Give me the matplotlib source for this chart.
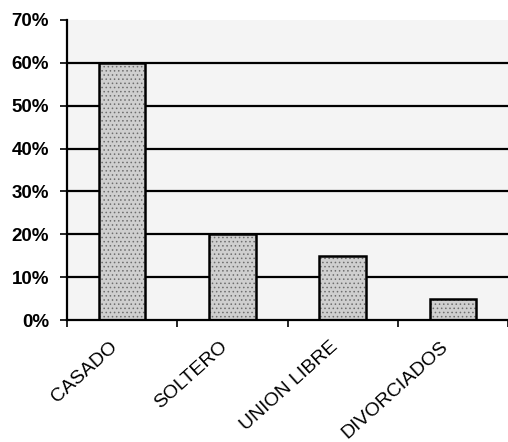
import matplotlib
matplotlib.use("Agg")
import matplotlib.pyplot as plt
from matplotlib.ticker import FuncFormatter

categories = ["CASADO", "SOLTERO", "UNION LIBRE", "DIVORCIADOS"]
values = [60, 20, 15, 5]
yticks = [0, 10, 20, 30, 40, 50, 60, 70]

plt.rcParams['font.family'] = ['Liberation Sans', 'DejaVu Sans']
plt.rcParams['hatch.linewidth'] = 0.6

fig = plt.figure(figsize=(5.08, 4.42), dpi=100)
fig.patch.set_facecolor('white')
ax = fig.add_axes([0.132, 0.276, 0.868, 0.679])
ax.set_facecolor('#f4f4f4')

x = list(range(len(categories)))
ax.set_xlim(-0.5, len(categories) - 0.5)
ax.set_ylim(0, 70)

for y in yticks[1:-1]:
    ax.axhline(y, color='black', lw=1.6, zorder=1)

bars = ax.bar(x, values, width=0.42, facecolor='#cfcfcf', edgecolor='black',
              linewidth=1.8, hatch='....', zorder=2)
for b in bars:
    b._hatch_color = matplotlib.colors.to_rgba('#6e6e6e')

ax.set_yticks(yticks)
ax.yaxis.set_major_formatter(FuncFormatter(lambda v, p: f"{int(v)}%"))
for lab in ax.get_yticklabels():
    lab.set_fontsize(13.5)
    lab.set_fontweight('bold')
ax.tick_params(axis='y', length=5, width=1.2, pad=8)

ax.set_xticks([i + 0.5 for i in range(-1, len(categories))])
ax.set_xticklabels([])
ax.tick_params(axis='x', length=5, width=1.2)
for i, c in enumerate(categories):
    ax.text(i - 0.12, -4.3, c, rotation=42, ha='right', va='top',
            rotation_mode='anchor', fontsize=14, transform=ax.transData,
            clip_on=False)

for s in ['top', 'right']:
    ax.spines[s].set_visible(False)
ax.spines['left'].set_linewidth(1.6)
ax.spines['bottom'].set_linewidth(1.6)

fig.savefig('out.png', dpi=100)
